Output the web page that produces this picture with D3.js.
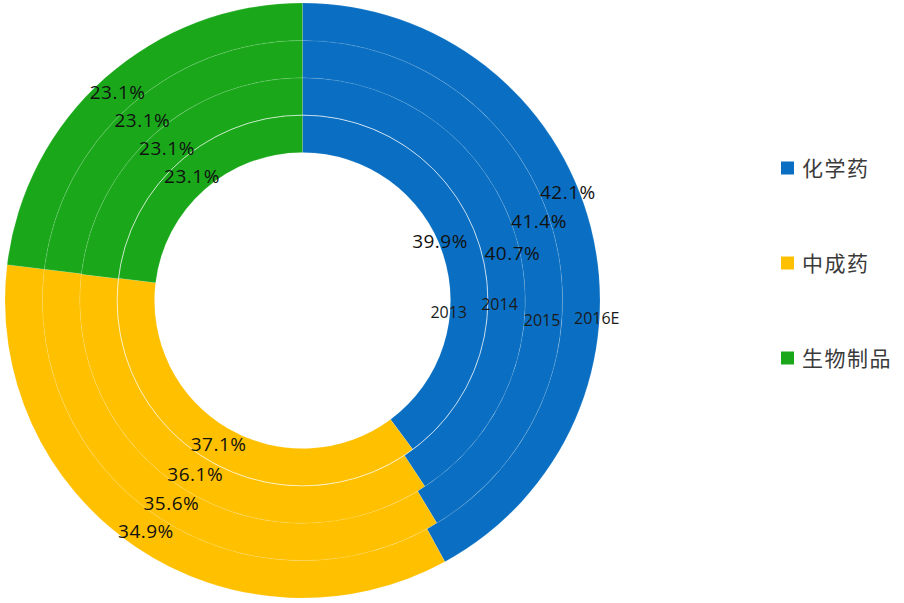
<!DOCTYPE html>
<html>
<head>
<meta charset="utf-8">
<script src="https://cdn.jsdelivr.net/npm/d3@7"></script>
<style>
  html, body { margin: 0; padding: 0; background: #fff; }
  svg { display: block; }
</style>
</head>
<body>
<svg id="chart" width="904" height="603"></svg>
<script>
// ---- data ----
const years = ["2013", "2014", "2015", "2016E"];
const categories = ["化学药", "中成药", "生物制品"];
const chemical = [39.9, 40.7, 41.4, 42.1];
const tcm = [37.1, 36.1, 35.6, 34.9];
const biologic = [23.1, 23.1, 23.1, 23.1];
const colors = ["#0A6FC2", "#FFC000", "#1AA81A"];

const series = [chemical, tcm, biologic];

// label layout (manual nudges of the first-slice labels, in degrees / px, as in the original)
const chemLabelNudge = [[-5, -17], [4, 11], [-3, 8], [-8, 8]];
const yearLabelPlace = [[94.7, -20], [91.2, -7], [94.8, -1], [93.5, 16]];

const cx = 302.5, cy = 300.5;
const innerR = 148, outerR = 297.5;

const svg = d3.select("#chart");
const g = svg.append("g").attr("transform", `translate(${cx},${cy})`);

const ring = d3.scaleBand().domain(years).range([innerR, outerR]).padding(0);
const color = d3.scaleOrdinal().domain(categories).range(colors);
const pie = d3.pie().sort(null).value(d => d.value);
const polar = (deg, r) => [Math.sin(deg * Math.PI / 180) * r, -Math.cos(deg * Math.PI / 180) * r];

years.forEach((yr, i) => {
  const rows = categories.map((c, k) => ({ cat: c, value: series[k][i] }));
  const arcs = pie(rows);
  const r0 = ring(yr), r1 = r0 + ring.bandwidth();
  const arc = d3.arc().innerRadius(r0).outerRadius(r1);
  g.append("g").selectAll("path").data(arcs).join("path")
    .attr("d", arc)
    .attr("fill", d => color(d.data.cat))
    .attr("stroke", "#fff")
    .attr("stroke-opacity", 0.1)
    .attr("stroke-width", 1);
});

// brighter separator between the innermost two rings
g.append("circle")
  .attr("r", ring(years[1]))
  .attr("fill", "none")
  .attr("stroke", "#fff")
  .attr("stroke-opacity", 0.6)
  .attr("stroke-width", 1);

// value labels
years.forEach((yr, i) => {
  const rows = categories.map((c, k) => ({ cat: c, value: series[k][i] }));
  const arcs = pie(rows);
  const rMid = ring(yr) + ring.bandwidth() / 2;
  g.append("g").selectAll("text").data(arcs).join("text")
    .attr("transform", (d, k) => {
      let deg = (d.startAngle + d.endAngle) / 2 * 180 / Math.PI;
      let r = rMid;
      if (k === 0) { deg += chemLabelNudge[i][0]; r += chemLabelNudge[i][1]; }
      return `translate(${polar(deg, r)})`;
    })
    .attr("text-anchor", "middle")
    .attr("dy", "0.36em")
    .attr("font-family", "'Open Sans', 'Liberation Sans', sans-serif")
    .attr("font-size", 19)
    .attr("letter-spacing", 0.5)
    .attr("fill", "#111")
    .text(d => d.data.value.toFixed(1) + "%");
});

// year (series name) labels on the first slice
g.append("g").selectAll("text").data(years).join("text")
  .attr("transform", (d, i) => `translate(${polar(yearLabelPlace[i][0], ring(d) + ring.bandwidth() / 2 + yearLabelPlace[i][1])})`)
  .attr("text-anchor", "middle")
  .attr("dy", "0.36em")
  .attr("font-family", "'Open Sans', 'Liberation Sans', sans-serif")
  .attr("font-size", 16)
  .attr("fill", "#1a1a1a")
  .text(d => d);

// legend
const legendY = d3.scalePoint().domain(categories).range([168, 358]);
const item = svg.append("g").selectAll("g").data(categories).join("g")
  .attr("transform", d => `translate(781,${legendY(d)})`);
item.append("rect")
  .attr("x", 0).attr("y", -6.5).attr("width", 13).attr("height", 13)
  .attr("fill", d => color(d));
item.append("text")
  .attr("x", 21).attr("dy", "0.36em")
  .attr("font-family", "'Noto Sans CJK SC', sans-serif")
  .attr("font-size", 21)
  .attr("letter-spacing", 1.5)
  .attr("fill", "#3a3a3a")
  .text(d => d);
</script>
</body>
</html>
